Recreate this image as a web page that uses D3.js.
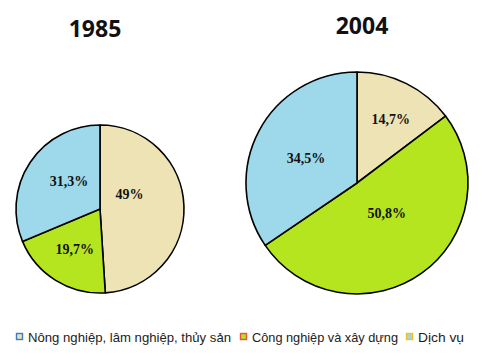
<!DOCTYPE html>
<html><head><meta charset="utf-8">
<script src="https://cdn.jsdelivr.net/npm/d3@7"></script>
<style>body{margin:0;background:#fff}</style>
</head><body><svg id="c" width="485" height="359"></svg>
<script>
const categories = ["Nông nghiệp, lâm nghiệp, thủy sản", "Công nghiệp và xây dựng", "Dịch vụ"];
const years = ["1985", "2004"];
const values1985 = [49, 19.7, 31.3];
const values2004 = [14.7, 50.8, 34.5];
const labels1985 = ["49%", "19,7%", "31,3%"];
const labels2004 = ["14,7%", "50,8%", "34,5%"];

const fills = ["#EEE3B4", "#B5E51F", "#9DD9EA"];
const borders = ["#3B7DC4", "#E8553A", "#F2C21B"];

const svg = d3.select("#c");
const pies = [
  {year: years[0], values: values1985, labels: labels1985, cx: 100, cy: 209, r: 84, tx: 95, ty: 37,
   lab: [{f:0.4, dx:-4, dy:-13}, {f:0.57, dx:0, dy:0}, {f:0.5, dx:4, dy:-4}]},
  {year: years[1], values: values2004, labels: labels2004, cx: 357, cy: 183, r: 111, tx: 362, ty: 34,
   lab: [{f:0.64, dx:2, dy:0}, {f:0.4, dx:4, dy:-6}, {f:0.52, dx:0, dy:2}]}
];

const pie = d3.pie().sort(null).value(d => d);

pies.forEach(p => {
  const g = svg.append("g").attr("transform", `translate(${p.cx},${p.cy})`);
  const arc = d3.arc().innerRadius(0).outerRadius(p.r);
  const arcs = pie(p.values);
  g.selectAll("path").data(arcs).join("path")
    .attr("d", arc)
    .attr("fill", (d, i) => fills[i])
    .attr("stroke", "#000")
    .attr("stroke-width", 1.6)
    .attr("stroke-linejoin", "round");
  g.selectAll("text").data(arcs).join("text")
    .attr("x", (d, i) => d3.arc().innerRadius(p.r * p.lab[i].f).outerRadius(p.r * p.lab[i].f).centroid(d)[0] + p.lab[i].dx)
    .attr("y", (d, i) => d3.arc().innerRadius(p.r * p.lab[i].f).outerRadius(p.r * p.lab[i].f).centroid(d)[1] + p.lab[i].dy)
    .attr("text-anchor", "middle")
    .attr("dominant-baseline", "central")
    .attr("font-family", "Liberation Serif, serif")
    .attr("font-weight", "bold")
    .attr("font-size", 14)
    .attr("fill", "#111")
    .text((d, i) => p.labels[i]);
  svg.append("text")
    .attr("x", p.tx).attr("y", p.ty)
    .attr("text-anchor", "middle")
    .attr("font-family", "Open Sans, Liberation Sans, sans-serif")
    .attr("font-weight", "bold")
    .attr("font-size", 23)
    .attr("fill", "#111")
    .text(p.year);
});

// legend
const legendX = [16, 240, 406];
const legendW = [203, 146, 46];
const lg = svg.append("g");
categories.forEach((c, i) => {
  lg.append("rect").attr("x", legendX[i] + 0.5).attr("y", 333.5).attr("width", 6).attr("height", 6)
    .attr("fill", fills[i]).attr("stroke", borders[i]).attr("stroke-width", 1.4);
  lg.append("text").attr("x", legendX[i] + 12).attr("y", 341.5)
    .attr("font-family", "Liberation Sans, sans-serif").attr("font-size", 13)
    .attr("textLength", legendW[i]).attr("lengthAdjust", "spacingAndGlyphs")
    .attr("fill", "#222").text(c);
});
</script></body></html>
